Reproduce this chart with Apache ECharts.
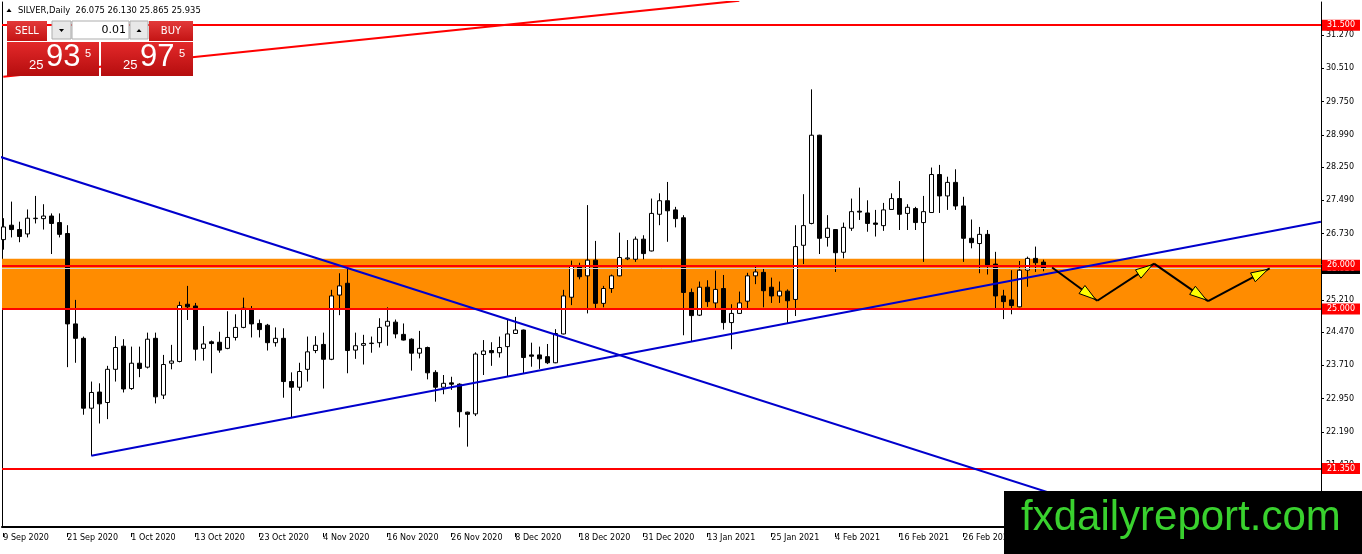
<!DOCTYPE html>
<html>
<head>
<meta charset="utf-8">
<script src="https://cdn.jsdelivr.net/npm/echarts@6/dist/echarts.min.js"></script>
<style>
  html, body { margin: 0; padding: 0; background: #fff; }
  #chart { width: 1362px; height: 554px; }
</style>
</head>
<body>
<div id="chart"></div>
<script>
// daily silver bars (open / close / low / high)
var opens = [
  26.59, 26.92, 26.82, 26.72, 27.07, 27.07, 27.13, 26.98, 26.73, 24.66,
  24.33, 22.73, 23.10, 22.86, 23.62, 24.15, 23.18, 23.76, 23.67, 24.33,
  23.03, 23.76, 23.80, 25.11, 25.07, 24.10, 24.25, 24.24, 24.10, 24.35,
  24.58, 24.99, 24.67, 24.63, 24.23, 24.33, 23.34, 23.21, 23.62, 24.05,
  24.19, 23.85, 25.32, 25.59, 24.06, 24.17, 24.21, 24.23, 24.61, 24.70,
  24.42, 24.31, 23.99, 24.12, 23.55, 23.21, 23.31, 23.28, 22.64, 22.60,
  23.96, 24.05, 24.00, 24.14, 24.44, 24.52, 23.95, 23.95, 23.91, 23.77,
  24.43, 25.27, 25.98, 25.76, 26.12, 25.13, 25.47, 25.76, 26.15, 26.14,
  26.60, 26.33, 27.17, 27.48, 27.27, 27.09, 25.38, 24.86, 25.50, 25.14,
  25.47, 24.69, 24.90, 25.18, 25.76, 25.84, 25.50, 25.30, 25.41, 25.22,
  26.46, 26.96, 28.98, 26.64, 26.82, 26.30, 26.85, 27.24, 27.20, 26.97,
  26.91, 27.28, 27.53, 27.19, 27.30, 26.98, 27.21, 28.08, 27.59, 27.90,
  27.36, 26.62, 26.50, 26.71, 26.03, 25.30, 25.21, 25.05, 25.89, 26.16,
  26.075
];
var closes = [
  26.88, 26.82, 26.66, 27.08, 27.08, 27.13, 26.96, 26.71, 24.66, 24.33,
  22.73, 23.09, 22.83, 23.62, 24.12, 23.17, 23.76, 23.64, 24.31, 22.99,
  23.73, 23.81, 25.08, 25.05, 24.08, 24.20, 24.21, 24.06, 24.35, 24.58,
  25.02, 24.66, 24.53, 24.23, 24.33, 23.34, 23.21, 23.57, 24.02, 24.17,
  23.85, 25.30, 25.53, 24.05, 24.16, 24.21, 24.22, 24.58, 24.72, 24.43,
  24.29, 23.99, 24.10, 23.54, 23.21, 23.30, 23.28, 22.65, 22.59, 23.97,
  24.04, 24.00, 24.12, 24.43, 24.52, 23.89, 23.92, 23.86, 23.77, 24.44,
  25.30, 25.98, 25.74, 26.12, 25.13, 25.47, 25.76, 26.18, 26.17, 26.60,
  26.27, 27.19, 27.48, 27.25, 27.07, 25.38, 24.85, 25.50, 25.17, 25.45,
  24.69, 24.90, 25.14, 25.76, 25.85, 25.42, 25.30, 25.41, 25.19, 26.43,
  26.91, 28.98, 26.62, 26.85, 26.29, 26.87, 27.23, 27.22, 26.96, 26.94,
  27.27, 27.53, 27.17, 27.33, 26.98, 27.23, 28.08, 27.59, 27.90, 27.36,
  26.62, 26.52, 26.71, 26.01, 25.30, 25.17, 25.08, 25.89, 26.16, 26.06,
  25.935
];
var lows = [
  26.36, 26.64, 26.53, 26.64, 26.96, 26.82, 26.26, 26.64, 23.67, 23.77,
  22.58, 21.64, 22.38, 22.48, 23.34, 23.09, 23.15, 23.44, 23.64, 22.84,
  22.94, 23.62, 23.78, 24.75, 23.82, 23.82, 23.53, 24.00, 24.08, 24.28,
  24.56, 24.35, 24.35, 24.05, 24.14, 22.97, 22.50, 23.13, 23.34, 23.99,
  23.18, 23.83, 24.86, 23.53, 23.86, 23.73, 24.00, 24.12, 24.16, 24.33,
  24.28, 23.59, 23.87, 23.39, 22.88, 23.05, 23.15, 22.29, 21.85, 22.55,
  23.49, 23.70, 23.89, 23.45, 24.43, 23.53, 23.68, 23.63, 23.74, 23.76,
  24.42, 25.09, 25.68, 24.90, 25.02, 25.04, 25.37, 25.75, 26.12, 26.08,
  26.14, 26.32, 26.92, 26.54, 26.87, 24.40, 24.25, 24.84, 25.05, 25.02,
  24.53, 24.08, 24.89, 25.02, 25.57, 25.04, 25.14, 25.14, 24.67, 24.84,
  26.03, 26.94, 26.26, 26.43, 25.85, 26.16, 26.79, 27.04, 26.77, 26.66,
  26.79, 27.27, 26.81, 26.81, 26.81, 26.08, 27.20, 27.20, 27.27, 27.27,
  26.08, 26.39, 25.82, 25.79, 25.02, 24.77, 24.88, 25.04, 25.51, 25.85,
  25.865
];
var highs = [
  27.08, 27.46, 27.00, 27.28, 27.59, 27.40, 27.19, 27.19, 26.92, 25.21,
  24.37, 23.34, 23.30, 23.70, 24.38, 24.31, 24.14, 24.14, 24.46, 24.46,
  23.95, 24.18, 25.17, 25.53, 25.14, 24.61, 24.28, 24.48, 24.95, 24.88,
  25.26, 25.07, 24.76, 24.66, 24.58, 24.56, 23.55, 23.77, 24.37, 24.38,
  24.46, 25.44, 25.82, 25.98, 24.46, 24.41, 24.37, 24.79, 25.04, 24.76,
  24.67, 24.33, 24.50, 24.14, 23.60, 23.49, 23.45, 23.30, 22.65, 24.01,
  24.29, 24.24, 24.37, 24.75, 24.82, 24.53, 24.23, 24.14, 24.20, 24.54,
  25.44, 26.11, 26.06, 27.38, 26.56, 25.53, 25.79, 26.75, 26.58, 26.66,
  26.69, 27.53, 27.65, 27.91, 27.34, 27.15, 25.47, 25.63, 25.66, 25.88,
  25.78, 25.11, 25.40, 25.83, 25.98, 25.93, 25.72, 25.63, 25.45, 26.92,
  27.63, 30.03, 28.99, 27.15, 26.83, 26.98, 27.53, 27.78, 27.49, 27.27,
  27.43, 27.65, 27.93, 27.40, 27.34, 27.59, 28.24, 28.30, 28.03, 28.20,
  27.57, 27.05, 26.88, 26.81, 26.31, 25.44, 25.89, 26.10, 26.20, 26.43,
  26.13
];

// one date label every 8 bars, starting at bar 0
var labelStep = 8;
var dateLabels = [
  '9 Sep 2020', '21 Sep 2020', '1 Oct 2020', '13 Oct 2020', '23 Oct 2020',
  '4 Nov 2020', '16 Nov 2020', '26 Nov 2020', '8 Dec 2020', '18 Dec 2020',
  '31 Dec 2020', '13 Jan 2021', '25 Jan 2021', '4 Feb 2021', '16 Feb 2021',
  '26 Feb 2021'
];
var priceTicks = [21.43, 22.19, 22.95, 23.71, 24.47, 25.21, 25.97, 26.73,
  27.49, 28.25, 28.99, 29.75, 30.51, 31.27];

// drawn objects
var levels = [31.5, 26.0, 25.0, 21.35];
var zone = [25.0, 26.15];
var bid = 25.935;
var fallLine = [[-1, 28.52], [145, 19.96]];
var riseLine = [[11, 21.64], [164.7, 27.0]];
var redRay = [[0, 30.32], [92, 32.06]];
var pathPoints = [[131.1, 25.95], [136.75, 25.19], [143.85, 26.04], [150.6, 25.18], [158.3, 25.93]];

var chart = echarts.init(document.getElementById('chart'));

var bars = opens.map(function (o, i) {
  return [i, o, closes[i], lows[i], highs[i]];
});
var segments = pathPoints.slice(1).map(function (p, i) {
  return [pathPoints[i][0], pathPoints[i][1], p[0], p[1]];
});
var tickPos = dateLabels.map(function (d, i) { return i * labelStep; });

var xMin = -0.1625, xMax = 164.7125;
var yMin = 20.01, yMax = 32.03;
var font = 'DejaVu Sans';

function redBox(fill) {
  return {
    show: true, position: 'end', distance: 1,
    color: '#fff', backgroundColor: fill,
    padding: [1, 5, 1, 5], fontSize: 8, lineHeight: 9, fontFamily: font,
    formatter: function (p) { return Number(p.value).toFixed(3); }
  };
}

function arrowItem(params, api) {
  var a = api.coord([api.value(0), api.value(1)]);
  var b = api.coord([api.value(2), api.value(3)]);
  var dx = b[0] - a[0], dy = b[1] - a[1];
  var len = Math.sqrt(dx * dx + dy * dy);
  var ux = dx / len, uy = dy / len;
  var tip = [b[0] - ux * 2, b[1] - uy * 2];
  var base = [tip[0] - ux * 17, tip[1] - uy * 17];
  var nx = -uy, ny = ux;
  return {
    type: 'group',
    children: [
      { type: 'line', shape: { x1: a[0], y1: a[1], x2: b[0], y2: b[1] },
        style: { stroke: '#000', lineWidth: 2 } },
      { type: 'polygon',
        shape: { points: [tip, [base[0] + nx * 5, base[1] + ny * 5], [base[0] - nx * 5, base[1] - ny * 5]] },
        style: { fill: '#ffff00', stroke: '#000', lineWidth: 1 } }
    ]
  };
}

function priceBox(x, big, btnX, btnW) {
  return [
    { type: 'rect', shape: { x: x, y: 42, width: 92, height: 34 }, z: 100,
      style: { fill: new echarts.graphic.LinearGradient(0, 0, 0, 1, [
        { offset: 0, color: '#e3292a' }, { offset: 1, color: '#b50d0e' }]) } },
    { type: 'text', x: x + 22, y: 72, z: 101,
      style: { text: '25', fill: '#fff', font: '13px "Liberation Sans"', verticalAlign: 'bottom' } },
    { type: 'text', x: x + 39, y: 73, z: 101,
      style: { text: big, fill: '#fff', font: '31px "Liberation Sans"', verticalAlign: 'bottom' } },
    { type: 'text', x: x + 78, y: 48, z: 101,
      style: { text: '5', fill: '#fff', font: '11px "Liberation Sans"', verticalAlign: 'top' } },
    { type: 'rect', shape: { x: btnX, y: 21, width: btnW, height: 20 }, z: 100,
      style: { fill: new echarts.graphic.LinearGradient(0, 0, 0, 1, [
        { offset: 0, color: '#e33a3a' }, { offset: 1, color: '#c41414' }]) } }
  ];
}

var graphics = []
  .concat(priceBox(7, '93', 7, 40))
  .concat(priceBox(101, '97', 149, 44))
  .concat([
    { type: 'text', x: 27, y: 31, z: 101,
      style: { text: 'SELL', fill: '#fff', font: '10px "DejaVu Sans"', align: 'center', verticalAlign: 'middle' } },
    { type: 'text', x: 171, y: 31, z: 101,
      style: { text: 'BUY', fill: '#fff', font: '10px "DejaVu Sans"', align: 'center', verticalAlign: 'middle' } },
    { type: 'rect', shape: { x: 52, y: 21, width: 19, height: 18 }, z: 100,
      style: { fill: '#e8e8e8', stroke: '#adadad', lineWidth: 1 } },
    { type: 'rect', shape: { x: 72, y: 21, width: 57, height: 18 }, z: 100,
      style: { fill: '#fff', stroke: '#adadad', lineWidth: 1 } },
    { type: 'rect', shape: { x: 130, y: 21, width: 18, height: 18 }, z: 100,
      style: { fill: '#e8e8e8', stroke: '#adadad', lineWidth: 1 } },
    { type: 'polygon', z: 101, shape: { points: [[59, 29], [64, 29], [61.5, 32]] }, style: { fill: '#000' } },
    { type: 'polygon', z: 101, shape: { points: [[136.5, 32], [141.5, 32], [139, 29]] }, style: { fill: '#000' } },
    { type: 'text', x: 126, y: 30, z: 101,
      style: { text: '0.01', fill: '#000', font: '11px "DejaVu Sans"', align: 'right', verticalAlign: 'middle' } },
    { type: 'polygon', z: 101, shape: { points: [[6.5, 12], [11.5, 12], [9, 8.5]] }, style: { fill: '#000' } },
    { type: 'text', x: 18, y: 11, z: 101,
      style: { text: 'SILVER,Daily  26.075 26.130 25.865 25.935', fill: '#000',
        font: '8.4px "DejaVu Sans"', verticalAlign: 'middle' } },
    { type: 'rect', shape: { x: 1004, y: 491, width: 358, height: 63 }, z: 100, style: { fill: '#000' } },
    { type: 'text', x: 1021, y: 518, z: 101,
      style: { text: 'fxdailyreport.com', fill: '#39d12e', font: '42px "Liberation Sans"', verticalAlign: 'middle' } }
  ]);

var option = {
  animation: false,
  backgroundColor: '#fff',
  textStyle: { fontFamily: font },
  grid: { left: 2, right: 41, top: 2, bottom: 27, outerBoundsMode: 'none', containLabel: false },
  xAxis: [
    {
      type: 'value', min: xMin, max: xMax, position: 'bottom',
      axisLine: { show: true, onZero: false, lineStyle: { color: '#000', width: 2 } },
      axisTick: { show: false }, axisLabel: { show: false }, splitLine: { show: false }
    },
    {
      type: 'value', min: xMin, max: xMax, position: 'bottom', offset: 6,
      axisLine: { show: false, onZero: false },
      axisTick: { show: true, customValues: tickPos, length: 4, lineStyle: { color: '#000' } },
      axisLabel: {
        show: true, customValues: tickPos, align: 'left', margin: 1,
        fontSize: 8, fontFamily: font, color: '#000',
        formatter: function (v) { return dateLabels[Math.round(v / labelStep)] || ''; }
      },
      splitLine: { show: false }
    }
  ],
  yAxis: [
    {
      type: 'value', position: 'right', min: yMin, max: yMax, scale: true,
      axisLine: { show: true, onZero: false, lineStyle: { color: '#000', width: 1 } },
      axisTick: { show: true, customValues: priceTicks, length: 3, lineStyle: { color: '#000' } },
      axisLabel: {
        show: true, customValues: priceTicks, margin: 5,
        fontSize: 8, fontFamily: font, color: '#000',
        formatter: function (v) { return v.toFixed(3); }
      },
      splitLine: { show: false }
    },
    {
      type: 'value', position: 'left', min: yMin, max: yMax, scale: true,
      axisLine: { show: true, onZero: false, lineStyle: { color: '#000', width: 1 } },
      axisTick: { show: false }, axisLabel: { show: false }, splitLine: { show: false }
    }
  ],
  series: [
    {
      type: 'line', data: [], silent: true, z: 1,
      markArea: {
        silent: true,
        itemStyle: { color: '#ff8c00' },
        data: [[{ yAxis: zone[0] }, { yAxis: zone[1] }]]
      }
    },
    {
      type: 'candlestick', data: bars, barWidth: 4, z: 3,
      itemStyle: { color: '#fff', color0: '#000', borderColor: '#000', borderColor0: '#000', borderWidth: 1 }
    },
    {
      type: 'line', data: [], silent: true, z: 4,
      markLine: {
        silent: true, symbol: ['none', 'none'], z: 5,
        data: [{ yAxis: bid, lineStyle: { color: '#d0d0d0', width: 1, type: 'solid' }, label: redBox('#000') }]
          .concat(levels.map(function (v) {
            return { yAxis: v, lineStyle: { color: '#ff0000', width: 2, type: 'solid' }, label: redBox('#ff0000') };
          }))
      }
    },
    {
      type: 'line', data: fallLine, symbol: 'none', silent: true, z: 6,
      lineStyle: { color: '#0000cd', width: 2 }
    },
    {
      type: 'line', data: riseLine, symbol: 'none', silent: true, z: 6,
      lineStyle: { color: '#0000cd', width: 2 }
    },
    {
      type: 'line', data: redRay, symbol: 'none', silent: true, z: 6,
      lineStyle: { color: '#ff0000', width: 2 }
    },
    {
      type: 'custom', data: segments, silent: true, z: 7,
      encode: { x: [0, 2], y: [1, 3] },
      renderItem: arrowItem
    }
  ],
  graphic: graphics
};

chart.setOption(option);
</script>
</body>
</html>
